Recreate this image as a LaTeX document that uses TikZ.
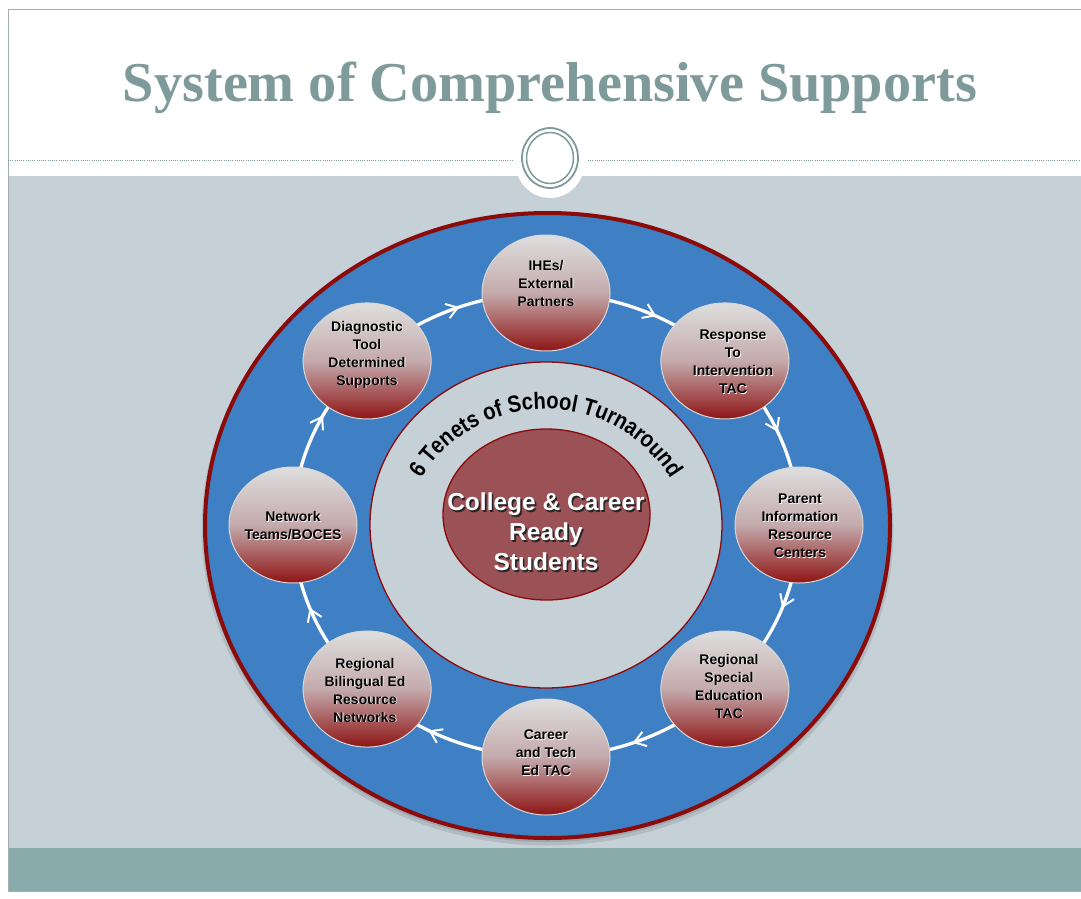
\documentclass[tikz,border=0pt]{standalone}
\usepackage{fontspec}
\setmainfont{Liberation Sans}
\newfontfamily\titlefont{Liberation Serif}
\newfontfamily\tenetfont{Liberation Sans}[FakeStretch=0.86]
\usetikzlibrary{shapes.geometric,decorations.text,decorations.markings,arrows.meta}
\pgfdeclarelayer{back}
\pgfdeclarelayer{mid}
\pgfsetlayers{back,mid,main}
\definecolor{bodybg}{HTML}{C6D1D7}
\definecolor{band}{HTML}{8AABAB}
\definecolor{framec}{HTML}{A0B0B0}
\definecolor{titlec}{HTML}{7E9A9A}
\definecolor{ringblue}{HTML}{3F7FC4}
\definecolor{dred}{HTML}{8B0A0A}
\definecolor{corefill}{HTML}{9A5257}
\definecolor{satTop}{HTML}{DEDEDE}
\definecolor{satMid}{HTML}{C4AAAC}
\definecolor{satBot}{HTML}{8E1414}
\definecolor{satedge}{HTML}{D8D8D8}
\tikzset{
  ringtip/.tip={Straight Barb[length=11pt,width=15pt,line width=2pt]},
  sat/.style={ellipse, minimum width=128pt, minimum height=116pt, inner sep=0pt,
    draw=satedge, line width=1pt, top color=satTop, bottom color=satBot, middle color=satMid},
  sattxt/.style={align=center, inner sep=0pt, text=black,
    font=\fontsize{14}{18}\selectfont\bfseries},
  sattxtsh/.style={sattxt, text=white},
  coretxt/.style={align=center, inner sep=0pt, text=white,
    font=\fontsize{24.5}{30}\selectfont\bfseries},
  coretxtsh/.style={coretxt, text=black!85},
  ringline/.style={draw=white, line width=3.3pt},
  orn/.style={draw=titlec}
}
\newcommand\sattext[4]{%
  \node[sattxtsh] (#1s) at ({#2+0.8},{-#3-0.8}) {#4};
  \node[sattxt] (#1) at (#2,-#3) {#4};}
\begin{document}
\begin{tikzpicture}[x=1pt,y=1pt]
\useasboundingbox (0,0) rectangle (1081,-899);
\begin{pgfonlayer}{back}
  \fill[white] (0,0) rectangle (1081,-899);
  \fill[bodybg] (8,-176) rectangle (1081,-848);
  \fill[band] (8,-848) rectangle (1081,-891);
  \draw[framec, line width=1pt] (1081,-10) -- (8,-10) -- (8,-891) -- (1081,-891);
  % dotted separator and ornament
  \draw[orn, line width=0.8pt, dash pattern=on 1pt off 1.2pt] (8,-160) -- (514,-160);
  \draw[orn, line width=0.8pt, dash pattern=on 1pt off 1.2pt] (588,-160) -- (1081,-160);
  \fill[white] (550,-161) ellipse[x radius=35pt, y radius=37pt];
  \draw[orn, line width=1.8pt] (550,-158) ellipse[x radius=28pt, y radius=30pt];
  \draw[orn, line width=1.5pt] (550,-158) ellipse[x radius=23.5pt, y radius=25.5pt];
  % title
  \node[anchor=base, inner sep=0pt, text=titlec] (title) at (550,-102)
    {\resizebox{854pt}{!}{\titlefont\bfseries System of Comprehensive Supports}};
  % big ring
  \fill[black, opacity=0.10] (547.5,-529.5) ellipse[x radius=346pt, y radius=316pt];
  \fill[black, opacity=0.10] (547.5,-528) ellipse[x radius=344pt, y radius=314pt];
  \node[ellipse, minimum width=685pt, minimum height=625pt, inner sep=0pt,
        fill=ringblue, draw=dred, line width=4pt] (outer) at (547.5,-525.5) {};
  \node[ellipse, minimum width=352pt, minimum height=326pt, inner sep=0pt,
        fill=bodybg, draw=dred, line width=1.3pt] (inner) at (546,-525) {};
  \node[ellipse, minimum width=207pt, minimum height=171pt, inner sep=0pt,
        fill=corefill, draw=dred, line width=1.3pt] (core) at (546.5,-514.5) {};
  \path[decorate, decoration={text along path, text align=center,
        text={|\tenetfont\fontsize{23.5}{23.5}\selectfont\bfseries|6 Tenets of School Turnaround}}]
    (546,-555) ++(153:146pt) arc[start angle=153, end angle=27, radius=146pt];
  \node[coretxtsh] (coresh) at (547.6,-533.6) {College \& Career\\Ready\\Students};
  \node[coretxt] (coretext) at (546,-532) {College \& Career\\Ready\\Students};
\end{pgfonlayer}
% satellites
\node[sat] (n1) at (546,-293) {};
\node[sat] (n2) at ({546+253*cos(45)},{-525+232*sin(45)}) {};
\node[sat] (n3) at (799,-525) {};
\node[sat] (n4) at ({546+253*cos(45)},{-525-232*sin(45)}) {};
\node[sat] (n5) at (546,-757) {};
\node[sat] (n6) at ({546-253*cos(45)},{-525-232*sin(45)}) {};
\node[sat] (n7) at (293,-525) {};
\node[sat] (n8) at ({546-253*cos(45)},{-525+232*sin(45)}) {};
\sattext{t1}{546}{283}{IHEs/\\External\\Partners}
\sattext{t2}{733}{362}{Response\\To\\Intervention\\TAC}
\sattext{t3}{800}{525.5}{Parent\\Information\\Resource\\Centers}
\sattext{t4}{729}{686}{Regional\\Special\\Education\\TAC}
\sattext{t5}{546}{753}{Career\\and Tech\\Ed TAC}
\sattext{t6}{365}{690}{Regional\\Bilingual Ed\\Resource\\Networks}
\sattext{t7}{293}{526}{Network\\Teams/BOCES}
\sattext{t8}{367}{354.5}{Diagnostic\\Tool\\Determined\\Supports}
% cycle connectors
\begin{pgfonlayer}{mid}
\foreach \a/\s/\e/\p in {n1/90/45/0.58, n2/45/0/0.48, n3/0/-45/0.46, n4/-45/-90/0.55,
                         n5/-90/-135/0.62, n6/-135/-180/0.54, n7/180/135/0.62, n8/135/90/0.55}{
  \draw[ringline, postaction={decorate},
        decoration={markings, mark=at position \p with {\arrow[white]{ringtip}}}]
    (\a.center) arc[start angle=\s, end angle=\e, x radius=253pt, y radius=232pt];
}
\end{pgfonlayer}
\end{tikzpicture}
\end{document}
